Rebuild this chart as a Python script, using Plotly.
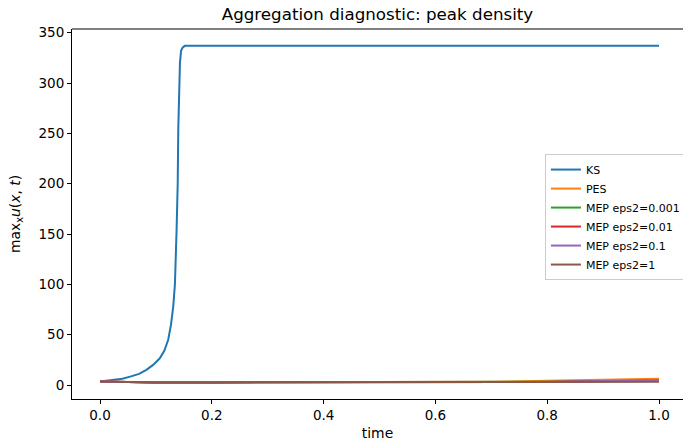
import plotly.graph_objects as go

# ---- data ----
ks_t = [0.0, 0.02, 0.04, 0.054, 0.07, 0.083, 0.095, 0.107, 0.115, 0.122, 0.127, 0.131, 0.134,
        0.137, 0.139, 0.140, 0.1415, 0.143, 0.145, 0.148, 0.152, 0.16, 0.3, 0.5, 0.7, 0.9, 1.0]
ks_v = [3.6, 4.8, 6.3, 8.3, 11.0, 15.0, 20.0, 26.5, 34.0, 45.0, 60.0, 78.0, 100.0,
        154.0, 200.0, 254.0, 290.0, 320.0, 332.0, 335.5, 337.0, 337.0, 337.0, 337.0, 337.0, 337.0, 337.0]

t_grid = [0.0, 0.02, 0.04, 0.06, 0.08, 0.1, 0.2, 0.3, 0.4, 0.5, 0.6, 0.65, 0.7, 0.75, 0.8,
          0.85, 0.9, 0.95, 1.0]
pes_v = [3.6, 3.4, 3.0, 2.7, 2.6, 2.6, 2.6, 2.6, 2.6, 2.6, 2.7, 2.9, 3.3, 3.7, 4.1,
         4.5, 5.0, 5.6, 6.3]
mep_0001_v = [3.6, 3.4, 3.0, 2.7, 2.6, 2.6, 2.6, 2.6, 2.6, 2.6, 2.6, 2.7, 2.9, 3.1, 3.3,
              3.5, 3.7, 3.9, 4.1]
mep_001_v = [3.6, 3.4, 3.0, 2.7, 2.6, 2.6, 2.6, 2.6, 2.6, 2.6, 2.6, 2.6, 2.7, 2.8, 3.1,
             3.5, 3.9, 4.2, 4.5]
mep_01_v = [3.6, 3.4, 3.0, 2.7, 2.6, 2.6, 2.6, 2.6, 2.6, 2.6, 2.6, 2.6, 2.7, 2.8, 3.0,
            3.4, 4.0, 4.6, 5.1]
mep_1_v = [3.6, 3.4, 3.0, 2.7, 2.6, 2.6, 2.6, 2.6, 2.6, 2.6, 2.6, 2.6, 2.6, 2.7, 2.8,
           2.9, 3.0, 3.1, 3.2]

x_ticks = [0.0, 0.2, 0.4, 0.6, 0.8, 1.0]
x_tick_labels = ["0.0", "0.2", "0.4", "0.6", "0.8", "1.0"]
y_ticks = [0, 50, 100, 150, 200, 250, 300, 350]
y_tick_labels = ["0", "50", "100", "150", "200", "250", "300", "350"]

series = [
    ("KS", ks_t, ks_v, "#1f77b4"),
    ("PES", t_grid, pes_v, "#ff7f0e"),
    ("MEP eps2=0.001", t_grid, mep_0001_v, "#2ca02c"),
    ("MEP eps2=0.01", t_grid, mep_001_v, "#d62728"),
    ("MEP eps2=0.1", t_grid, mep_01_v, "#9467bd"),
    ("MEP eps2=1", t_grid, mep_1_v, "#8c564b"),
]

fig = go.Figure()
for name, tx, vy, col in series:
    fig.add_trace(go.Scatter(x=tx, y=vy, mode="lines", name=name,
                             line=dict(color=col, width=2)))

font = "DejaVu Sans"
fig.update_layout(
    width=683, height=441,
    margin=dict(l=72, r=0, t=29, b=42, autoexpand=False),
    paper_bgcolor="white", plot_bgcolor="white",
    font=dict(family=font, size=13.5, color="black"),
    title=dict(text="Aggregation diagnostic: peak density", x=0.5, xanchor="center",
               xref="paper", y=0.982, yref="container", yanchor="top",
               font=dict(family=font, size=16.7, color="black")),
    showlegend=True,
    legend=dict(x=0.774, y=0.662, xanchor="left", yanchor="top",
                bgcolor="rgba(255,255,255,0.8)", bordercolor="#cccccc", borderwidth=1,
                font=dict(family=font, size=11, color="black"),
                tracegroupgap=0, itemwidth=30),
)
fig.update_xaxes(range=[-0.0501, 1.0429], tickvals=x_ticks, ticktext=x_tick_labels,
                 showgrid=False, zeroline=False, showline=True, linecolor="black",
                 linewidth=1, ticks="outside", ticklen=4, tickcolor="black", automargin=False,
                 title=dict(text="time", font=dict(family=font, size=13.9), standoff=8))
fig.update_yaxes(range=[-13.9, 353.7], tickvals=y_ticks, ticktext=y_tick_labels,
                 showgrid=False, zeroline=False, showline=True, linecolor="black",
                 linewidth=1, ticks="outside", ticklen=4, tickcolor="black", automargin=False,
                 title=dict(text="max<sub>x</sub><i>u</i>(<i>x</i>, <i>t</i>)",
                            font=dict(family=font, size=13.9), standoff=14))
fig.add_shape(type="line", xref="paper", yref="paper", x0=0, x1=1, y0=1, y1=1,
              line=dict(color="#555555", width=1.5))

fig.write_html("out.html", config={"displayModeBar": False},
               post_script="document.body.style.margin='0';document.body.style.overflow='hidden';")
